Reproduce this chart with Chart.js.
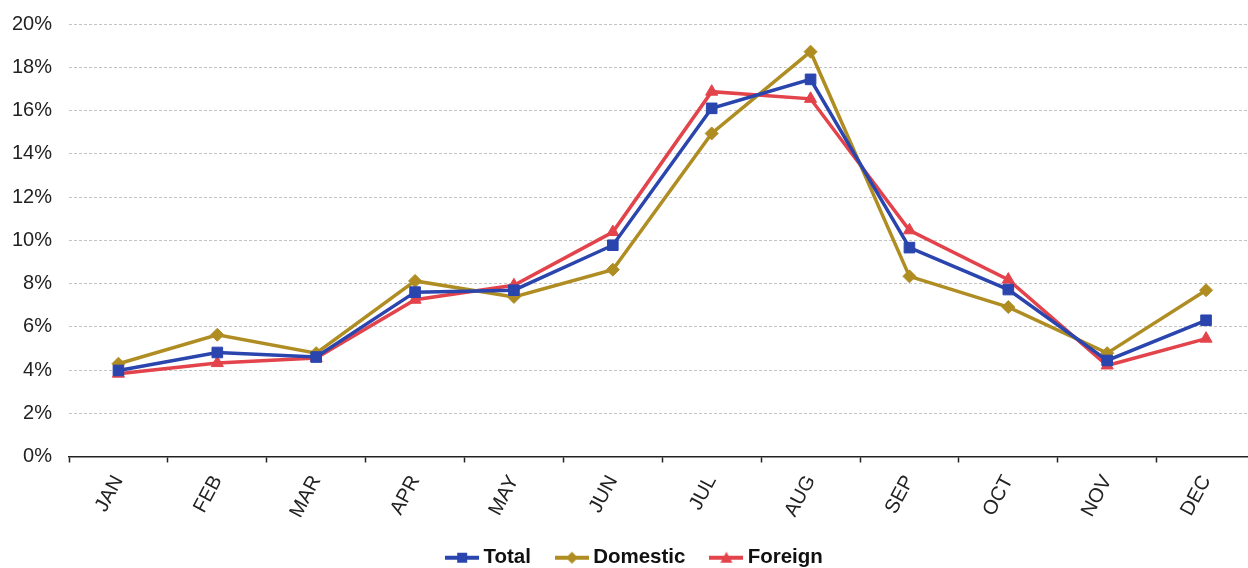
<!DOCTYPE html>
<html>
<head>
<meta charset="utf-8">
<title>Monthly share of arrivals</title>
<script src="https://cdn.jsdelivr.net/npm/chart.js@4.4.1/dist/chart.umd.min.js"></script>
<style>
  html, body { margin: 0; padding: 0; background: #ffffff; overflow: hidden; }
  #wrap { width: 1248px; height: 568px; position: relative; overflow: hidden; }
  #chart { position: absolute; left: 0; top: 0; }
</style>
</head>
<body>
<div id="wrap"><canvas id="chart" width="1264" height="568"></canvas></div>
<script>
// Months on the category axis
const months = ['JAN', 'FEB', 'MAR', 'APR', 'MAY', 'JUN', 'JUL', 'AUG', 'SEP', 'OCT', 'NOV', 'DEC'];

// Monthly share of the yearly total, in percent
const totalShare    = [3.98, 4.81, 4.60, 7.60, 7.69, 9.77, 16.10, 17.44, 9.66, 7.72, 4.44, 6.30];
const domesticShare = [4.29, 5.63, 4.78, 8.12, 7.38, 8.64, 14.94, 18.72, 8.33, 6.91, 4.78, 7.69];
const foreignShare  = [3.83, 4.32, 4.55, 7.25, 7.92, 10.38, 16.87, 16.54, 10.46, 8.18, 4.21, 5.45];

// Value axis ticks
const yTicks = [0, 2, 4, 6, 8, 10, 12, 14, 16, 18, 20];

const FONT = '"Liberation Sans", Arial, Helvetica, sans-serif';
const BLUE = '#2a45ae';
const GOLD = '#af8d22';
const RED  = '#e3434b';

// Small "line with marker" swatch used as a legend symbol
function swatch(color, style) {
  const c = document.createElement('canvas');
  c.width = 34; c.height = 14;
  const g = c.getContext('2d');
  g.strokeStyle = color; g.fillStyle = color; g.lineWidth = 4;
  g.beginPath(); g.moveTo(0, 7); g.lineTo(34, 7); g.stroke();
  g.beginPath();
  if (style === 'rect') {
    g.rect(12, 2, 10, 10);
  } else if (style === 'rectRot') {
    g.moveTo(17, 1); g.lineTo(23, 7); g.lineTo(17, 13); g.lineTo(11, 7); g.closePath();
  } else {
    g.moveTo(17, 1); g.lineTo(23, 12); g.lineTo(11, 12); g.closePath();
  }
  g.fill();
  return c;
}

const series = [
  { label: 'Total',    data: totalShare,    color: BLUE, style: 'rect',     radius: 7.5 },
  { label: 'Domestic', data: domesticShare, color: GOLD, style: 'rectRot',  radius: 6.5 },
  { label: 'Foreign',  data: foreignShare,  color: RED,  style: 'triangle', radius: 7 }
];

const datasets = series.map(s => ({
  label: s.label,
  data: s.data,
  borderColor: s.color,
  backgroundColor: s.color,
  borderWidth: 3.5,
  pointStyle: s.style,
  pointRadius: s.radius,
  pointHoverRadius: s.radius,
  pointBorderWidth: 1,
  pointBorderColor: s.color,
  pointBackgroundColor: s.color,
  tension: 0,
  legendSymbol: swatch(s.color, s.style)
}));

new Chart(document.getElementById('chart'), {
  type: 'line',
  data: { labels: months, datasets: datasets },
  options: {
    responsive: false,
    animation: false,
    layout: { padding: { top: 24, right: 0, bottom: -10, left: 10 } },
    plugins: {
      tooltip: { enabled: false },
      legend: {
        position: 'bottom',
        labels: {
          usePointStyle: true,
          pointStyleWidth: 22,
          boxHeight: 14,
          padding: 30,
          color: '#111111',
          font: { family: FONT, size: 20.5, weight: 'bold' },
          generateLabels(chart) {
            const items = Chart.defaults.plugins.legend.labels.generateLabels(chart);
            items.forEach(it => { it.pointStyle = chart.data.datasets[it.datasetIndex].legendSymbol; });
            return items;
          }
        }
      }
    },
    scales: {
      x: {
        type: 'category',
        offset: true,
        afterFit(scale) { scale.height = 61; scale.paddingRight = 0; scale.paddingLeft = 0; },
        grid: {
          offset: true,
          drawOnChartArea: false,
          drawTicks: true,
          tickLength: 6,
          tickColor: '#222222',
          tickWidth: 1.5
        },
        border: { display: true, color: '#222222', width: 1.5 },
        ticks: {
          minRotation: 62,
          maxRotation: 62,
          padding: 9,
          color: '#222222',
          font: { family: FONT, size: 20 }
        }
      },
      y: {
        min: 0,
        max: 20,
        afterFit(scale) { scale.width = 59; scale.paddingTop = 0; scale.paddingBottom = 0; },
        afterBuildTicks(scale) { scale.ticks = yTicks.map(v => ({ value: v })); },
        grid: { color: '#c4c4c4', lineWidth: 1, drawTicks: false },
        border: { display: false, dash: [3, 2] },
        ticks: {
          padding: 17,
          color: '#222222',
          font: { family: FONT, size: 20 },
          callback: v => v + '%'
        }
      }
    }
  }
});
</script>
</body>
</html>
